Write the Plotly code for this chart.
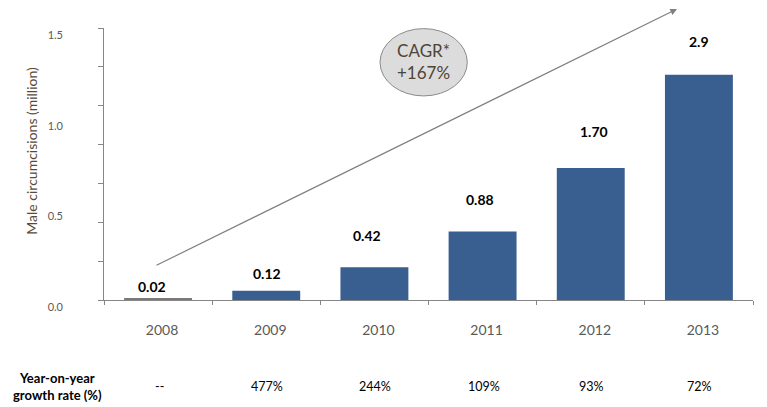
import plotly.graph_objects as go

# data
years = ['2008', '2009', '2010', '2011', '2012', '2013']
circumcisions = [0.02, 0.12, 0.42, 0.88, 1.70, 2.9]
bar_labels = ['0.02', '0.12', '0.42', '0.88', '1.70', '2.9']
growth_rate = ['--', '477%', '244%', '109%', '93%', '72%']
axis_labels = ['0.0', '0.5', '1.0', '1.5']
axis_label_vals = [0.0, 0.5, 1.0, 1.5]

FONT = "Lato"
BLUE = "#385f8f"
GRAY_TXT = "#595959"
BROWN = "#5a4a3a"

bar_colors = ['#7a7a7a'] + [BLUE] * (len(years) - 1)

fig = go.Figure()

fig.add_trace(go.Bar(x=years, y=circumcisions, marker_color=bar_colors,
                     marker_line_width=0, hoverinfo='skip', showlegend=False))

# empty trace so the label axis gets drawn
fig.add_trace(go.Scatter(x=[], y=[], yaxis='y2', showlegend=False, hoverinfo='skip'))

# value labels above the bars (category axis -> annotation x is the category index)
label_yshift = [12, 17, 32, 32, 36, 33]
label_xshift = [-6, 1, -7, -3, 3, 0]
for i, (v, txt) in enumerate(zip(circumcisions, bar_labels)):
    fig.add_annotation(x=i, y=v, xref='x', yref='y', text='<b>' + txt + '</b>',
                       showarrow=False, xanchor='center', yanchor='middle',
                       yshift=label_yshift[i], xshift=label_xshift[i],
                       font=dict(family=FONT, size=14, color='black'))

# growth rate row
for i, g in enumerate(growth_rate):
    fig.add_annotation(x=i, y=-0.318, xref='x', yref='paper', text=g,
                       showarrow=False, xanchor='center', yanchor='middle', xshift=1,
                       font=dict(family=FONT, size=12.5, color='black'))

fig.add_annotation(x=(57.5 - 104) / 649, y=-0.318, xref='paper', yref='paper',
                   text='<b>Year-on-year<br>growth rate (%)</b>', showarrow=False,
                   xanchor='center', yanchor='middle',
                   font=dict(family=FONT, size=13, color='black'))

# axis title
fig.add_annotation(x=(31.5 - 104) / 649, y=0.547, xref='paper', yref='paper',
                   text='Male circumcisions (million)', textangle=-90, showarrow=False,
                   xanchor='center', yanchor='middle',
                   font=dict(family=FONT, size=14, color=BROWN))

# growth arrow
fig.add_annotation(x=(677 - 104) / 649, y=(300 - 6.5) / 272.3, xref='paper', yref='paper',
                   ax=155 - 677, ay=265.7 - 6.5, axref='pixel', ayref='pixel',
                   text='', showarrow=True, arrowhead=2, arrowsize=1.1,
                   arrowwidth=1.2, arrowcolor='#808080')

# CAGR bubble
fig.add_shape(type='circle', xref='paper', yref='paper',
              x0=(380 - 104) / 649, x1=(467.3 - 104) / 649,
              y0=(300 - 95.7) / 272.3, y1=(300 - 28.3) / 272.3,
              fillcolor='#dcdcdc', line=dict(color='#8a8a8a', width=1))
fig.add_annotation(x=(423.7 - 104) / 649, y=(300 - 61.5) / 272.3, xref='paper', yref='paper',
                   text='CAGR*<br>+167%', showarrow=False,
                   xanchor='center', yanchor='middle',
                   font=dict(family=FONT, size=17, color='#4f4436'))

# the page body adds an 8px offset, so margins are 8px smaller on top/left
fig.update_layout(
    width=767, height=407,
    margin=dict(l=96, r=22, t=20, b=115),
    paper_bgcolor='white', plot_bgcolor='white',
    bargap=0.372,
    font=dict(family=FONT),
    xaxis=dict(type='category', range=[-0.5, len(years) - 0.5],
               showline=True, linecolor='#868686', linewidth=1,
               ticks='outside', tickson='boundaries', ticklen=4, tickcolor='#868686',
               tickfont=dict(family=FONT, size=14, color=GRAY_TXT),
               ticklabelstandoff=17, ticklabelshift=4, showgrid=False,
               automargin=False),
    yaxis=dict(range=[0, 3.5], dtick=0.5, showline=True, linecolor='#868686', linewidth=1,
               ticks='outside', ticklen=5, tickcolor='#868686',
               showticklabels=False, showgrid=False, zeroline=False, automargin=False),
    yaxis2=dict(overlaying='y', side='left', range=[0, 1.5],
                tickvals=axis_label_vals, ticktext=axis_labels,
                ticks='', showline=False, showgrid=False, zeroline=False,
                ticklabelshift=7, ticklabelstandoff=40, automargin=False,
                tickfont=dict(family=FONT, size=11, color=GRAY_TXT)),
)

fig.write_html("out.html")
